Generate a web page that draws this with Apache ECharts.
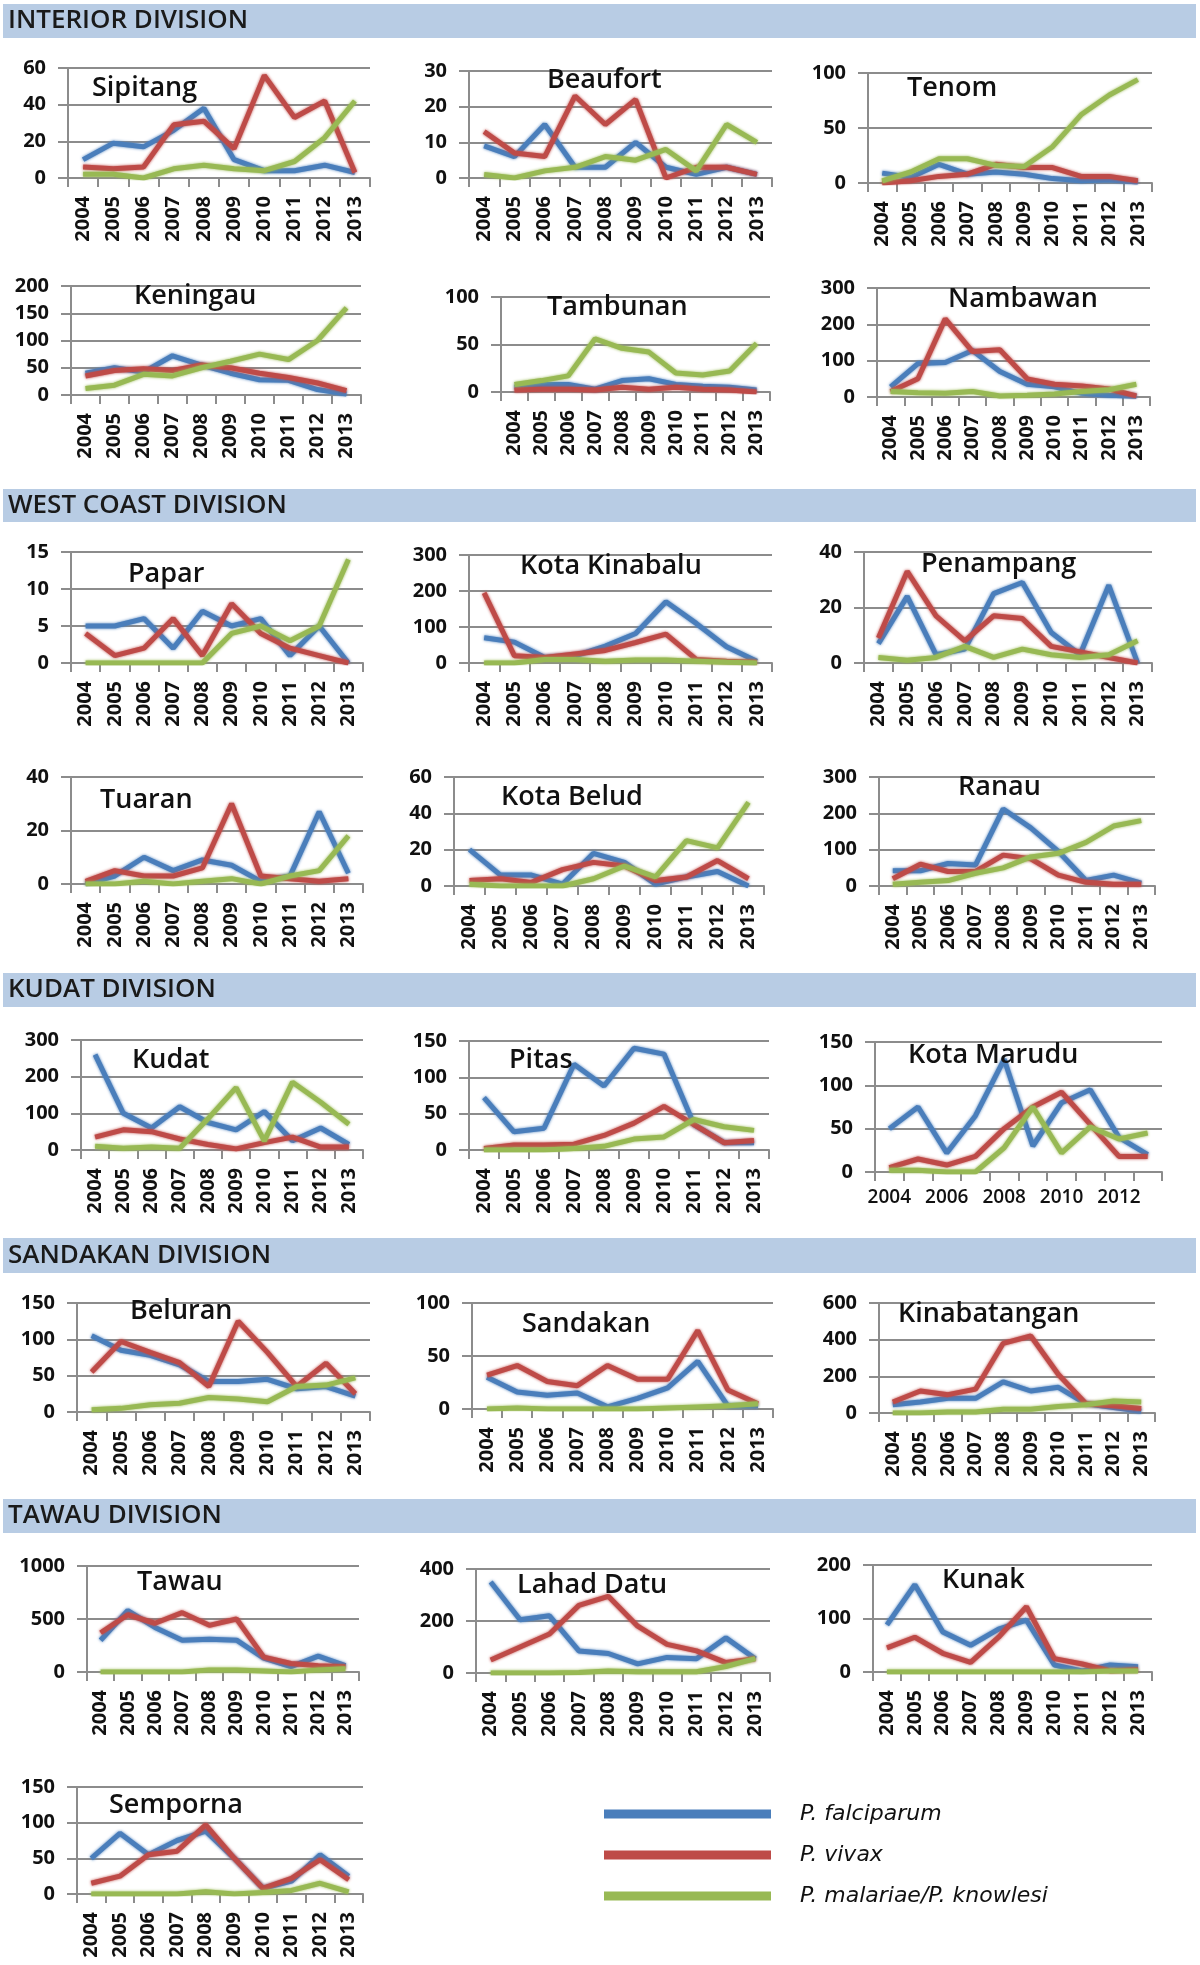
<!DOCTYPE html>
<html><head><meta charset="utf-8">
<script src="https://cdn.jsdelivr.net/npm/echarts@6/dist/echarts.min.js"></script>
<style>html,body{margin:0;padding:0;background:#fff}#c{width:1200px;height:1965px}</style>
</head><body><div id="c"></div>
<script>
// ---------------- DATA ----------------
const years = ['2004','2005','2006','2007','2008','2009','2010','2011','2012','2013'];
const seriesNames = ['P. falciparum','P. vivax','P. malariae/P. knowlesi'];
const divisions = ['INTERIOR DIVISION','WEST COAST DIVISION','KUDAT DIVISION','SANDAKAN DIVISION','TAWAU DIVISION'];
const districts = ['Sipitang','Beaufort','Tenom','Keningau','Tambunan','Nambawan',
  'Papar','Kota Kinabalu','Penampang','Tuaran','Kota Belud','Ranau',
  'Kudat','Pitas','Kota Marudu','Beluran','Sandakan','Kinabatangan',
  'Tawau','Lahad Datu','Kunak','Semporna'];
const yMax  = [60,30,100,200,100,300, 15,300,40,40,60,300, 300,150,150, 150,100,600, 1000,400,200,150];
const yStep = [20,10,50,50,50,100, 5,100,20,20,20,100, 100,50,50, 50,50,200, 500,200,100,50];
// P. falciparum
const falciparum = [
  [10,19,17,26,38,10,4,4,7,3],
  [9,6,15,3,3,10,3,1,3,1],
  [9,5,17,8,10,8,4,2,3,1],
  [40,50,42,72,55,40,28,27,10,2],
  [5,8,8,3,12,14,8,6,5,2],
  [28,92,95,128,70,35,28,10,5,2],
  [5,5,6,2,7,5,6,1,5,0],
  [70,58,15,20,47,82,170,110,45,5],
  [7,24,3,5,25,29,11,3,28,0],
  [0,3,10,5,9,7,1,3,27,4],
  [20,6,6,1,18,13,1,5,8,0],
  [42,42,62,58,212,160,95,15,30,8],
  [260,100,60,118,75,55,105,25,60,15],
  [72,25,30,118,88,140,132,35,10,10],
  [50,75,22,65,130,30,80,95,40,20],
  [105,85,78,65,42,42,45,32,35,22],
  [30,16,13,15,2,10,20,45,3,3],
  [45,60,80,80,170,120,140,50,30,10],
  [300,580,420,300,310,300,130,50,150,60],
  [350,205,220,85,75,35,60,55,135,55],
  [88,163,75,50,80,97,13,2,13,10],
  [50,85,55,75,88,50,8,18,55,25]
];
// P. vivax
const vivax = [
  [6,5,6,29,31,16,56,33,42,3],
  [13,7,6,23,15,22,0,3,3,1],
  [0,2,6,8,17,14,14,6,6,2],
  [35,45,48,45,55,50,40,32,22,8],
  [2,3,3,2,5,3,5,3,2,0],
  [15,50,215,125,130,50,35,30,22,3],
  [4,1,2,6,1,8,4,2,1,0],
  [195,20,15,25,35,57,80,10,5,2],
  [9,33,17,8,17,16,6,4,2,0],
  [1,5,3,3,6,30,3,2,1,2],
  [3,4,2,9,13,11,3,5,14,4],
  [20,60,40,40,85,75,30,10,5,5],
  [35,55,50,30,15,3,20,35,8,8],
  [2,7,7,8,20,37,60,35,10,13],
  [5,15,8,18,50,75,92,55,18,18],
  [55,97,82,68,35,125,82,35,67,25],
  [32,41,26,22,41,28,28,74,18,5],
  [60,120,100,130,380,420,210,50,40,25],
  [370,540,460,560,440,500,140,80,60,50],
  [50,100,150,260,295,180,110,85,40,55],
  [45,65,35,18,65,122,25,15,2,4],
  [15,25,55,60,97,50,8,22,48,20]
];
// P. malariae / P. knowlesi
const malariae = [
  [2,2,0,5,7,5,4,9,22,42],
  [1,0,2,3,6,5,8,2,15,10],
  [2,10,22,22,16,15,33,62,80,94],
  [12,18,38,35,50,62,75,65,100,160],
  [8,12,17,56,46,42,20,18,22,51],
  [15,12,10,15,3,5,8,15,20,35],
  [0,0,0,0,0,4,5,3,5,14],
  [0,0,10,10,5,8,8,5,2,0],
  [2,1,2,6,2,5,3,2,3,8],
  [0,0,1,0,1,2,0,3,5,18],
  [1,0,0,0,4,11,5,25,21,46],
  [5,10,15,35,50,80,90,120,165,180],
  [10,5,8,5,85,170,25,185,130,70],
  [0,0,0,2,5,15,18,42,32,27],
  [2,2,0,0,28,75,22,52,38,45],
  [3,5,10,12,20,18,14,35,37,47],
  [0,1,0,0,0,0,1,2,3,5],
  [0,0,5,5,20,20,35,45,65,60],
  [0,0,0,0,20,20,10,0,20,30],
  [0,0,0,2,8,5,5,5,25,55],
  [0,0,0,0,0,0,0,0,2,2],
  [0,0,0,0,3,0,2,5,15,3]
];

// ---------------- LAYOUT ----------------
// [left, right, top(max gridline), bottom(zero line), titleX, titleY(center)]
const layout = [
  [68,370,68,178, 92,88],
  [469,772,71,178, 547,80],
  [868,1152,73,183, 907,88],
  [71,361,286,395, 134,296],
  [501,770,297,392, 547,307],
  [877,1150,288,397, 948,299],
  [71,363,552,663, 128,574],
  [469,772,555,663, 520,566],
  [864,1152,552,663, 921,564],
  [71,363,777,884, 100,800],
  [454,764,777,886, 501,797],
  [879,1155,777,886, 958,787],
  [81,363,1040,1150, 132,1060],
  [469,769,1041,1150, 509,1060],
  [875,1162,1042,1172, 908,1055],
  [77,370,1303,1412, 130,1311],
  [472,773,1303,1409, 522,1324],
  [879,1155,1303,1413, 898,1314],
  [87,359,1566,1672, 137,1582],
  [476,770,1569,1673, 517,1585],
  [873,1152,1565,1672, 942,1580],
  [77,363,1787,1894, 109,1805]
];
const bands = [[4,38],[489,522],[973,1007],[1238,1273],[1499,1533]];
const colors = ['#4a7ebb','#be4b48','#98b954'];
const gray = '#8c8c8c';
const W = 1200, H = 1965;

const grid = [], xAxis = [], yAxis = [], series = [], title = [];
districts.forEach((name, i) => {
  const [l, r, t, b, tx, ty] = layout[i];
  grid.push({left: l, top: t, width: r - l, height: b - t, containLabel: false});
  const horiz = (name === 'Kota Marudu');
  xAxis.push({
    type: 'category', gridIndex: i, data: years, boundaryGap: true,
    axisLine: {show: true, lineStyle: {color: gray, width: 2}},
    axisTick: {show: true, interval: 0, length: 9, lineStyle: {color: gray, width: 2}},
    axisLabel: horiz ?
      {interval: 1, rotate: 0, margin: 16, fontSize: 19, fontWeight: 600, color: '#111', fontFamily: 'Open Sans'} :
      {interval: 0, rotate: 90, margin: 18, fontSize: 20, fontWeight: 'bold', color: '#111', fontFamily: 'Open Sans'},
    splitLine: {show: false}
  });
  yAxis.push({
    type: 'value', gridIndex: i, min: 0, max: yMax[i], interval: yStep[i],
    axisLine: {show: true, lineStyle: {color: gray, width: 2}},
    axisTick: {show: true, length: 10, lineStyle: {color: gray, width: 2}},
    axisLabel: {margin: 22, fontSize: 20, fontWeight: 'bold', color: '#111', fontFamily: 'Open Sans',
      formatter: v => String(v)},
    splitLine: {show: true, lineStyle: {color: gray, width: 2}}
  });
  [falciparum, vivax, malariae].forEach((arr, k) => {
    series.push({
      name: seriesNames[k], type: 'line', xAxisIndex: i, yAxisIndex: i,
      data: arr[i], showSymbol: false, symbol: 'none', smooth: false,
      lineStyle: {color: colors[k], width: 5, shadowBlur: 3, shadowColor: colors[k]},
      itemStyle: {color: colors[k]}, z: 2 + k
    });
  });
  title.push({
    text: name, left: tx, top: ty - 19, padding: 0,
    textStyle: {fontSize: 27, fontWeight: 600, color: '#111', fontFamily: 'Open Sans', lineHeight: 38}
  });
});

const graphic = [];
bands.forEach((bd, j) => {
  graphic.push({type: 'rect', left: 3, top: bd[0], shape: {width: 1193, height: bd[1] - bd[0]},
    style: {fill: '#b8cce4'}, z: -10});
  graphic.push({type: 'text', left: 8, top: (bd[0] + bd[1]) / 2 - 17,
    style: {text: divisions[j], fontSize: 26, fontWeight: 600, fill: '#1a1a1a', fontFamily: 'Open Sans', lineHeight: 34}, z: -9});
});

const option = {
  animation: false,
  backgroundColor: '#fff',
  title, grid, xAxis, yAxis, series, graphic,
  legend: {
    orient: 'vertical', left: 604, top: 1801, itemGap: 15,
    itemWidth: 167, itemHeight: 9, icon: 'rect', padding: 0,
    data: seriesNames,
    textStyle: {fontSize: 22, fontStyle: 'italic', color: '#111', fontFamily: 'DejaVu Sans', lineHeight: 26, padding: [0,0,0,24]}
  }
};
const chart = echarts.init(document.getElementById('c'), null, {renderer: 'canvas', width: W, height: H});
chart.setOption(option);
</script></body></html>
